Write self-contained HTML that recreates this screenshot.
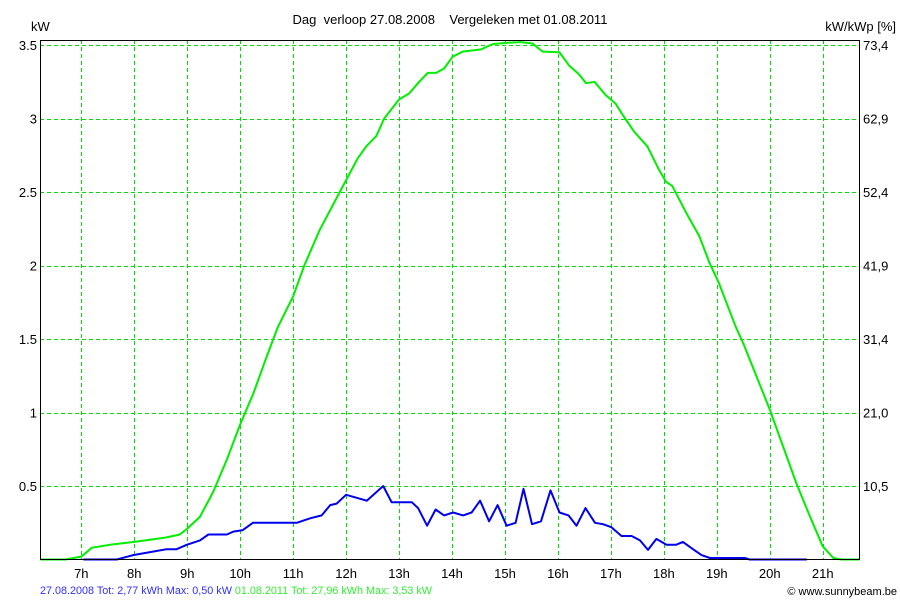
<!DOCTYPE html>
<html><head><meta charset="utf-8"><style>
html,body{margin:0;padding:0;background:#fff;}
svg{display:block;font-family:"Liberation Sans",Arial,sans-serif;}
.pre{white-space:pre;}
</style></head><body>
<svg id="chart" width="900" height="600" viewBox="0 0 900 600" xmlns="http://www.w3.org/2000/svg">
<rect x="0" y="0" width="900" height="600" fill="#fff"/>
<text class="pre" x="450" y="24" text-anchor="middle" font-size="13" fill="#000">Dag  verloop 27.08.2008    Vergeleken met 01.08.2011</text>
<text x="31" y="31" font-size="13" fill="#000">kW</text>
<text x="896" y="31" text-anchor="end" font-size="13" fill="#000">kW/kWp [%]</text>
<g id="grid"></g>
<g id="ticks"></g>
<g id="series"></g>
<rect x="40.5" y="40.5" width="819" height="519" fill="none" stroke="#000" stroke-width="1"/>
<text x="40" y="594" font-size="11" fill="#3030ff" textLength="392" lengthAdjust="spacingAndGlyphs">27.08.2008 Tot: 2,77 kWh Max: 0,50 kW <tspan fill="#33ee33">01.08.2011 Tot: 27,96 kWh Max: 3,53 kW</tspan></text>
<text x="897" y="595" text-anchor="end" font-size="11" fill="#000">© www.sunnybeam.be</text>
</svg>
<script>
const hourTicks=[7,8,9,10,11,12,13,14,15,16,17,18,19,20,21];
const kwTicks=[0.5,1,1.5,2,2.5,3,3.5];
const kwTickLabels=["0.5","1","1.5","2","2.5","3","3.5"];
const pctTickLabels=["10,5","21,0","31,4","41,9","52,4","62,9","73,4"];
const greenHours=[6.23,6.7,7.0,7.2,7.54,8.0,8.6,8.86,9.0,9.24,9.49,9.75,10.0,10.25,10.5,10.71,11.0,11.21,11.5,11.94,12.22,12.38,12.57,12.72,13.0,13.19,13.38,13.54,13.7,13.85,14.01,14.2,14.55,14.77,15.08,15.3,15.52,15.71,16.03,16.21,16.4,16.53,16.69,16.9,17.09,17.25,17.44,17.69,17.91,18.04,18.16,18.42,18.67,18.86,19.04,19.36,19.5,20.0,20.5,20.75,21.0,21.2,21.35,21.7];
const greenKw=[0,0,0.02,0.08,0.10,0.12,0.15,0.17,0.21,0.29,0.46,0.68,0.92,1.13,1.38,1.58,1.79,2.0,2.24,2.54,2.73,2.81,2.88,3.0,3.13,3.17,3.25,3.31,3.31,3.34,3.42,3.455,3.47,3.507,3.516,3.52,3.51,3.455,3.45,3.36,3.30,3.24,3.25,3.16,3.10,3.01,2.91,2.81,2.65,2.57,2.54,2.36,2.20,2.02,1.88,1.58,1.47,1.02,0.52,0.3,0.09,0.01,0,0];
const blueHours=[7.04,7.67,7.98,8.3,8.61,8.8,8.99,9.24,9.4,9.75,9.87,10.05,10.24,11.07,11.32,11.54,11.7,11.82,12.0,12.39,12.7,12.86,13.24,13.36,13.53,13.69,13.85,14.02,14.21,14.37,14.53,14.7,14.86,15.03,15.2,15.35,15.51,15.68,15.86,16.03,16.2,16.35,16.52,16.7,16.85,17.01,17.2,17.39,17.55,17.7,17.86,18.05,18.23,18.36,18.55,18.71,18.87,19.25,19.53,19.62,20.7];
const blueKw=[0,0,0.03,0.05,0.07,0.07,0.1,0.13,0.17,0.17,0.19,0.20,0.25,0.25,0.28,0.30,0.37,0.38,0.44,0.40,0.50,0.39,0.39,0.35,0.23,0.34,0.30,0.32,0.30,0.32,0.40,0.26,0.37,0.23,0.25,0.48,0.24,0.26,0.47,0.32,0.30,0.23,0.35,0.25,0.24,0.22,0.16,0.16,0.13,0.065,0.14,0.10,0.10,0.12,0.07,0.03,0.01,0.01,0.01,0,0];
const X0=40,X1=859,Y0=40,Y1=559;
function xs(h){return 81.3+(h-7)*52.96;}
function ys(v){return 559.5-v*147;}
const NS="http://www.w3.org/2000/svg";
function mk(tag,attrs,parent){const e=document.createElementNS(NS,tag);for(const k in attrs)e.setAttribute(k,attrs[k]);parent.appendChild(e);return e;}
const grid=document.getElementById('grid'),ticks=document.getElementById('ticks'),series=document.getElementById('series');
hourTicks.forEach(h=>{
  const x=Math.round(xs(h))+0.5;
  const l=mk('line',{x1:x,x2:x,y1:Y0,y2:Y1,stroke:'#00dd00','stroke-width':1,'stroke-dasharray':'4,3'},grid);
  
  
  const t=mk('text',{x:xs(h),y:578,'text-anchor':'middle','font-size':13,fill:'#000'},ticks);
  t.textContent=h+'h';
  
  
});
kwTicks.forEach((v,i)=>{
  const y=Math.round(ys(v))+0.5;
  const l=mk('line',{x1:X0,x2:X1,y1:y,y2:y,stroke:'#00dd00','stroke-width':1,'stroke-dasharray':'4,3'},grid);
  
  
  const t=mk('text',{x:37,y:ys(v)+5,'text-anchor':'end','font-size':13,fill:'#000'},ticks);
  t.textContent=kwTickLabels[i];
  
  
  const t2=mk('text',{x:863,y:ys(v)+5,'font-size':13,fill:'#000'},ticks);
  t2.textContent=pctTickLabels[i];
  
  
});
function pts(hs,vs){return hs.map((h,i)=>xs(h).toFixed(1)+','+ys(vs[i]).toFixed(1)).join(' ');}
const g=mk('polyline',{points:pts(greenHours,greenKw),fill:'none',stroke:'#00ee00','stroke-width':2,'stroke-linejoin':'round'},series);


const b=mk('polyline',{points:pts(blueHours,blueKw),fill:'none',stroke:'#0000ee','stroke-width':2,'stroke-linejoin':'round'},series);


</script>
</body></html>
